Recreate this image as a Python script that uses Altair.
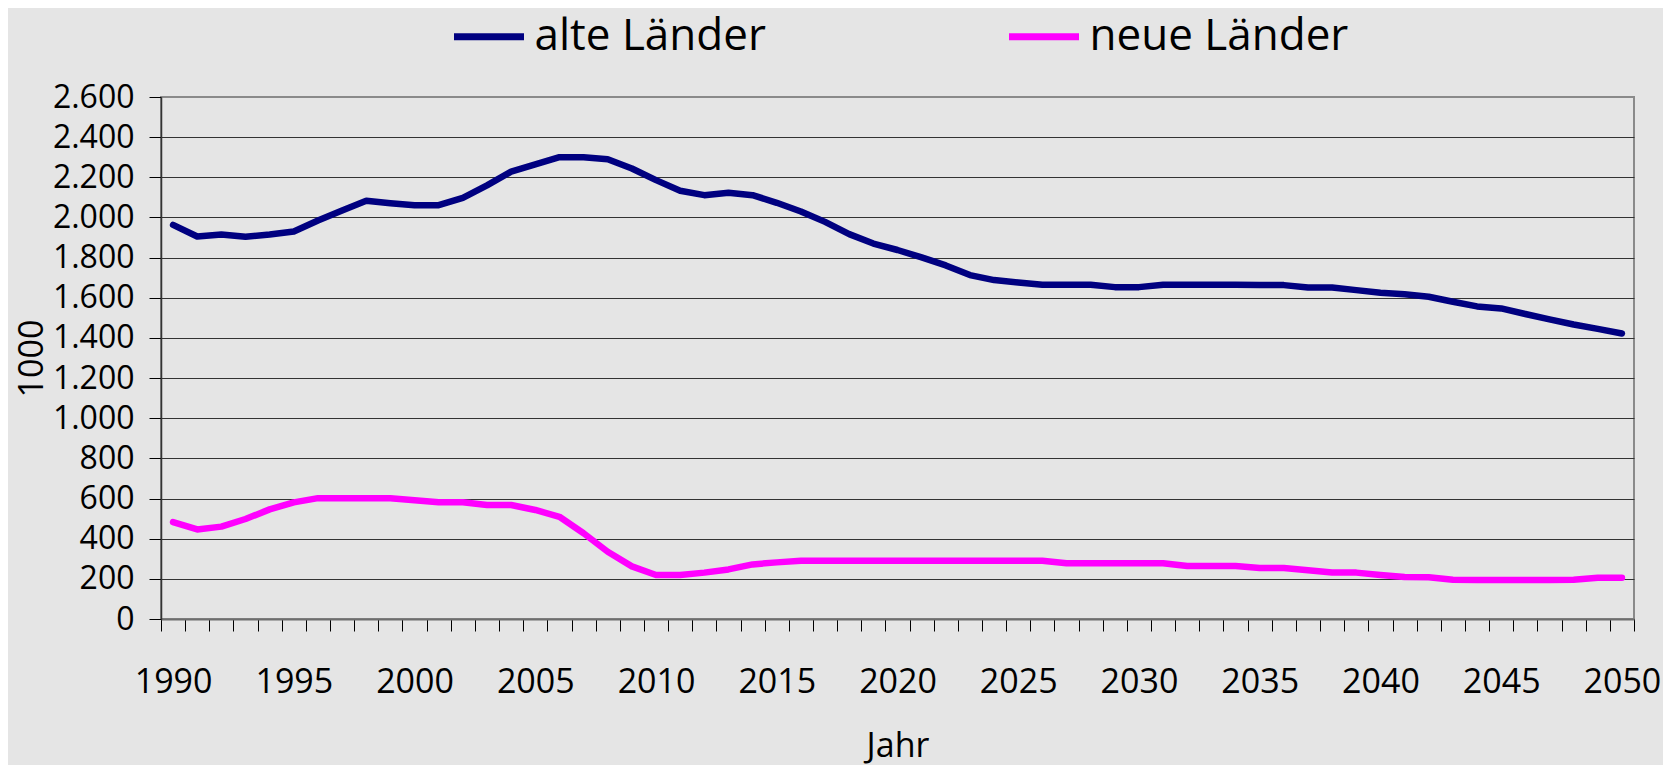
import altair as alt
import pandas as pd

# ---- data ----
years = list(range(1990, 2051))
alte = [1963, 1905, 1915, 1904, 1915, 1930, 1985, 2035, 2083, 2071,
        2061, 2061, 2098, 2160, 2228, 2264, 2300, 2300, 2290, 2244,
        2186, 2133, 2111, 2123, 2111, 2073, 2030, 1978, 1917, 1870,
        1838, 1801, 1761, 1713, 1688, 1676, 1665, 1665, 1665, 1653,
        1653, 1665, 1665, 1665, 1665, 1664, 1663, 1651, 1651, 1638,
        1625, 1617, 1605, 1580, 1557, 1547, 1519, 1492, 1467, 1445,
        1422]
neue = [483, 446, 460, 498, 546, 581, 602, 602, 602, 602,
        592, 581, 581, 568, 568, 543, 509, 427, 335, 262,
        219, 219, 231, 247, 272, 282, 290, 290, 290, 290,
        290, 290, 290, 290, 290, 290, 290, 278, 278, 278,
        278, 278, 264, 264, 264, 254, 254, 243, 232, 231,
        219, 209, 208, 195, 194, 194, 194, 194, 196, 206,
        206]
series_names = ["alte Länder", "neue Länder"]
series_colors = ["#000080", "#FF00FF"]
y_ticks = [0, 200, 400, 600, 800, 1000, 1200, 1400, 1600, 1800, 2000, 2200, 2400, 2600]
x_tick_bounds = [y - 0.5 for y in years] + [years[-1] + 0.5]

df = pd.DataFrame({
    "Jahr": years + years,
    "Wert": alte + neue,
    "Serie": [series_names[0]] * len(years) + [series_names[1]] * len(years),
})

FONT = "Open Sans"
PW, PH = 1473, 522
step = PW / len(years)

chart = alt.Chart(df).mark_line(
    strokeWidth=6.5, strokeCap="round", strokeJoin="round"
).encode(
    x=alt.X(
        "Jahr:Q",
        scale=alt.Scale(domain=[x_tick_bounds[0], x_tick_bounds[-1]], nice=False, zero=False),
        axis=alt.Axis(
            values=x_tick_bounds,
            labelExpr="(datum.value + 0.5) % 5 == 0 ? '' + (datum.value + 0.5) : ''",
            labelOffset=step / 2,
            labelFlush=False,
            labelOverlap=False,
            labelFont=FONT, labelFontSize=34, labelColor="black",
            labelBaseline="alphabetic", labelPadding=61,
            tickSize=12, tickColor="black", tickWidth=1,
            domainColor="#6e6e6e", domainWidth=2,
            grid=False,
            title="Jahr", titleFont=FONT, titleFontSize=34, titleFontWeight="normal",
            titleColor="black", titleBaseline="alphabetic",
            titleX=PW / 2, titleY=137,
        ),
    ),
    y=alt.Y(
        "Wert:Q",
        scale=alt.Scale(domain=[0, 2600], nice=False),
        axis=alt.Axis(
            values=y_ticks,
            labelExpr="replace(format(datum.value, ','), ',', '.')",
            labelOverlap=False,
            labelFont=FONT, labelFontSize=32, labelColor="black",
            labelPadding=15,
            tickSize=12, tickColor="black", tickWidth=1,
            domainColor="#333333", domainWidth=1.5,
            grid=True,
            gridColor=alt.condition("datum.value == 2600", alt.value("#8a8a8a"), alt.value("#333333")),
            gridWidth=1,
            title="1000", titleFont=FONT, titleFontSize=34, titleFontWeight="normal",
            titleColor="black", titleBaseline="alphabetic",
            titleX=-119, titleY=PH / 2,
        ),
    ),
    color=alt.Color(
        "Serie:N",
        scale=alt.Scale(domain=series_names, range=series_colors),
        legend=alt.Legend(
            title=None, orient="none", direction="horizontal",
            legendX=289.5, legendY=-99,
            symbolType="stroke", symbolSize=4900, symbolStrokeWidth=7,
            labelFont=FONT, labelFontSize=44, labelColor="black",
            labelOffset=7, labelLimit=600, columnPadding=228, padding=0,
        ),
    ),
).properties(
    width=PW, height=PH,
    autosize=alt.AutoSizeParams(type="none"),
    padding={"left": 153, "top": 89, "right": 29, "bottom": 146},
    background="#E5E5E5",
).configure_view(stroke="#8a8a8a", strokeWidth=2)

chart.save("out.html", embed_options={"renderer": "svg", "actions": False})
